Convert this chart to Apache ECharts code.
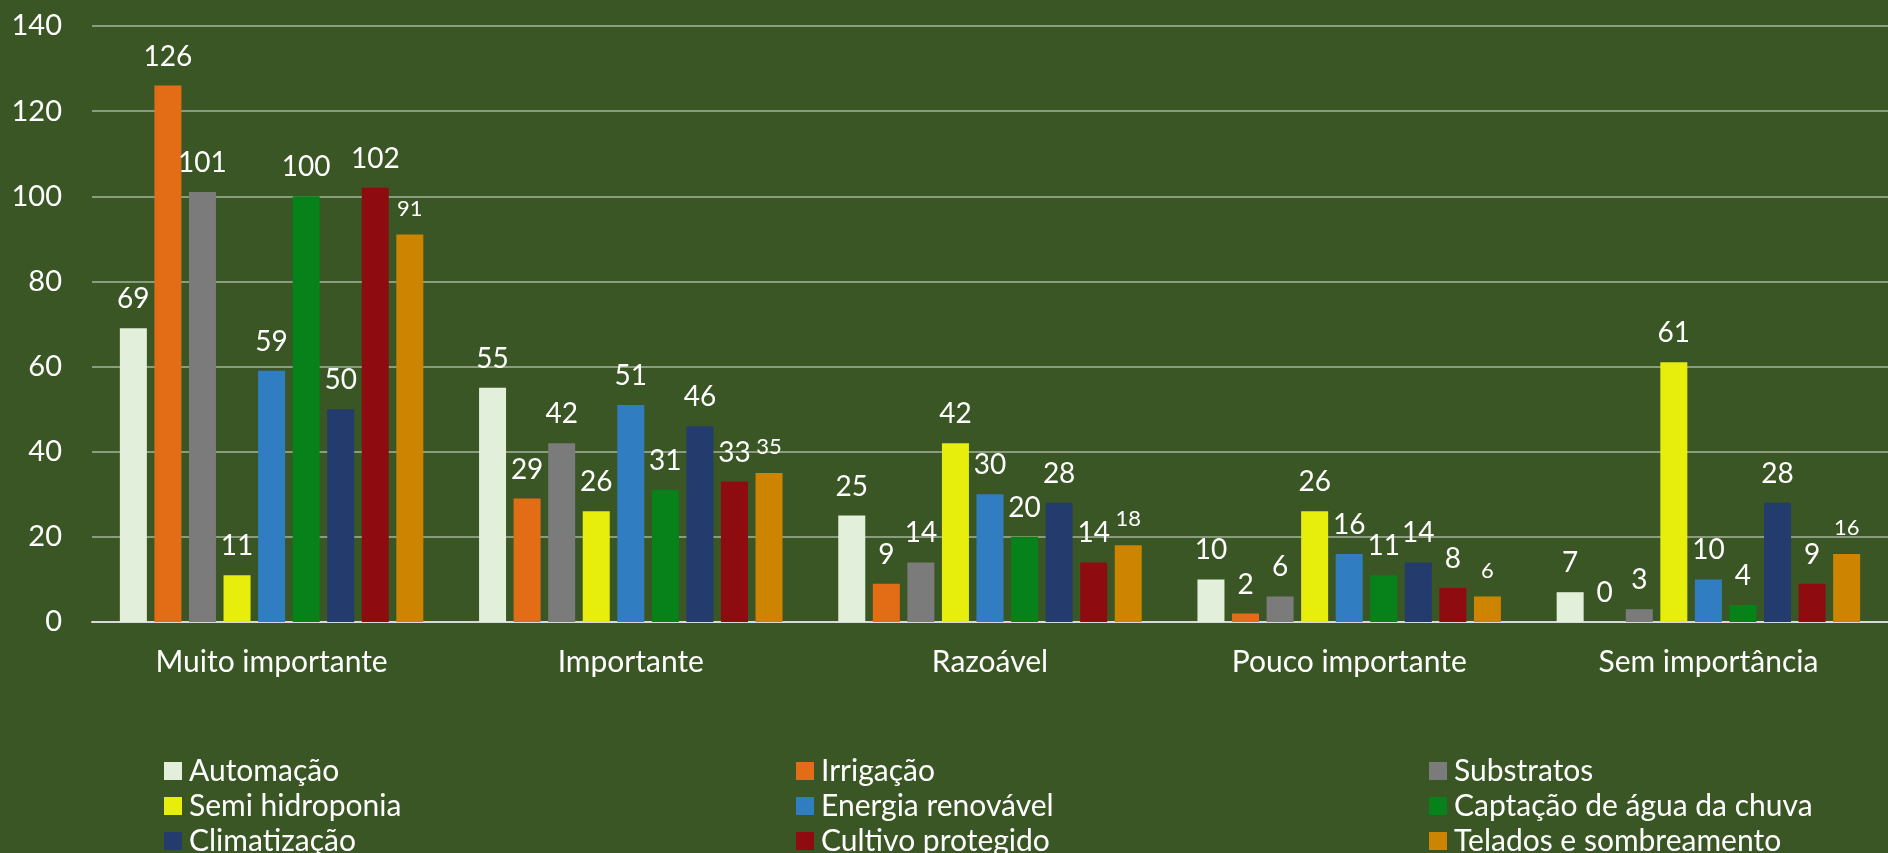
<!DOCTYPE html>
<html>
<head>
<meta charset="utf-8">
<script src="https://cdn.jsdelivr.net/npm/echarts@6/dist/echarts.min.js"></script>
<style>
  html, body { margin: 0; padding: 0; background: #3A5624; }
  #main { width: 1888px; height: 853px; }
</style>
</head>
<body>
<div id="main"></div>
<script>
// categories (x axis)
const categories = ['Muito importante', 'Importante', 'Razoável', 'Pouco importante', 'Sem importância'];
const yTicks = [0, 20, 40, 60, 80, 100, 120, 140];

// one array per technology
const automacao = [69, 55, 25, 10, 7];
const irrigacao = [126, 29, 9, 2, 0];
const substratos = [101, 42, 14, 6, 3];
const semiHidroponia = [11, 26, 42, 26, 61];
const energiaRenovavel = [59, 51, 30, 16, 10];
const captacaoAgua = [100, 31, 20, 11, 4];
const climatizacao = [50, 46, 28, 14, 28];
const cultivoProtegido = [102, 33, 14, 8, 9];
const telados = [91, 35, 18, 6, 16];

const seriesNames = ['Automação', 'Irrigação', 'Substratos', 'Semi hidroponia', 'Energia renovável',
  'Captação de água da chuva', 'Climatização', 'Cultivo protegido', 'Telados e sombreamento'];
const seriesData = [automacao, irrigacao, substratos, semiHidroponia, energiaRenovavel,
  captacaoAgua, climatizacao, cultivoProtegido, telados];
const colors = ['#E2EFDA', '#E36C16', '#7B7B7B', '#E8EE0C', '#317DC2',
  '#07821A', '#233C6D', '#8E0C10', '#CD8400'];

const font = 'Lato, "Open Sans", sans-serif';

const chart = echarts.init(document.getElementById('main'));

var series = [];
for (var i = 0; i < seriesNames.length; i++) {
  // last series has smaller labels in the original
  var small = i === seriesNames.length - 1;
  series.push({
    name: seriesNames[i],
    type: 'bar',
    data: seriesData[i],
    barWidth: 27,
    barGap: '28%',
    itemStyle: { color: colors[i] },
    label: {
      show: true,
      position: 'top',
      distance: 15,
      color: '#FFFFFF',
      fontFamily: font,
      fontSize: small ? 22 : 28
    }
  });
}

// legend is 3 columns of 3 rows
function legendCol(x, names) {
  return {
    orient: 'vertical',
    left: x,
    top: 756,
    height: 140,
    padding: 0,
    itemWidth: 18,
    itemHeight: 18,
    itemGap: 5,
    icon: 'rect',
    itemStyle: { borderWidth: 0 },
    textStyle: { color: '#FFFFFF', fontFamily: font, fontSize: 30, lineHeight: 30, padding: [0, 0, 0, 2] },
    data: names
  };
}

const option = {
  backgroundColor: '#3A5624',
  animation: false,
  color: colors,
  grid: {
    left: 92,
    right: -13,
    top: 26,
    bottom: 231
  },
  legend: [
    legendCol(164, ['Automação', 'Semi hidroponia', 'Climatização']),
    legendCol(796, ['Irrigação', 'Energia renovável', 'Cultivo protegido']),
    legendCol(1429, ['Substratos', 'Captação de água da chuva', 'Telados e sombreamento'])
  ],
  xAxis: {
    type: 'category',
    data: categories,
    axisLine: { lineStyle: { color: '#D9D9D9', width: 2 } },
    axisTick: { show: false },
    axisLabel: {
      color: '#FFFFFF',
      fontFamily: font,
      fontSize: 30,
      margin: 25
    }
  },
  yAxis: {
    type: 'value',
    min: yTicks[0],
    max: yTicks[yTicks.length - 1],
    interval: yTicks[1] - yTicks[0],
    axisLine: { show: false },
    axisTick: { show: false },
    splitLine: { lineStyle: { color: '#8A9B7E', width: 2 } },
    axisLabel: {
      color: '#FFFFFF',
      fontFamily: font,
      fontSize: 29,
      margin: 30
    }
  },
  series: series
};

chart.setOption(option);
</script>
</body>
</html>
